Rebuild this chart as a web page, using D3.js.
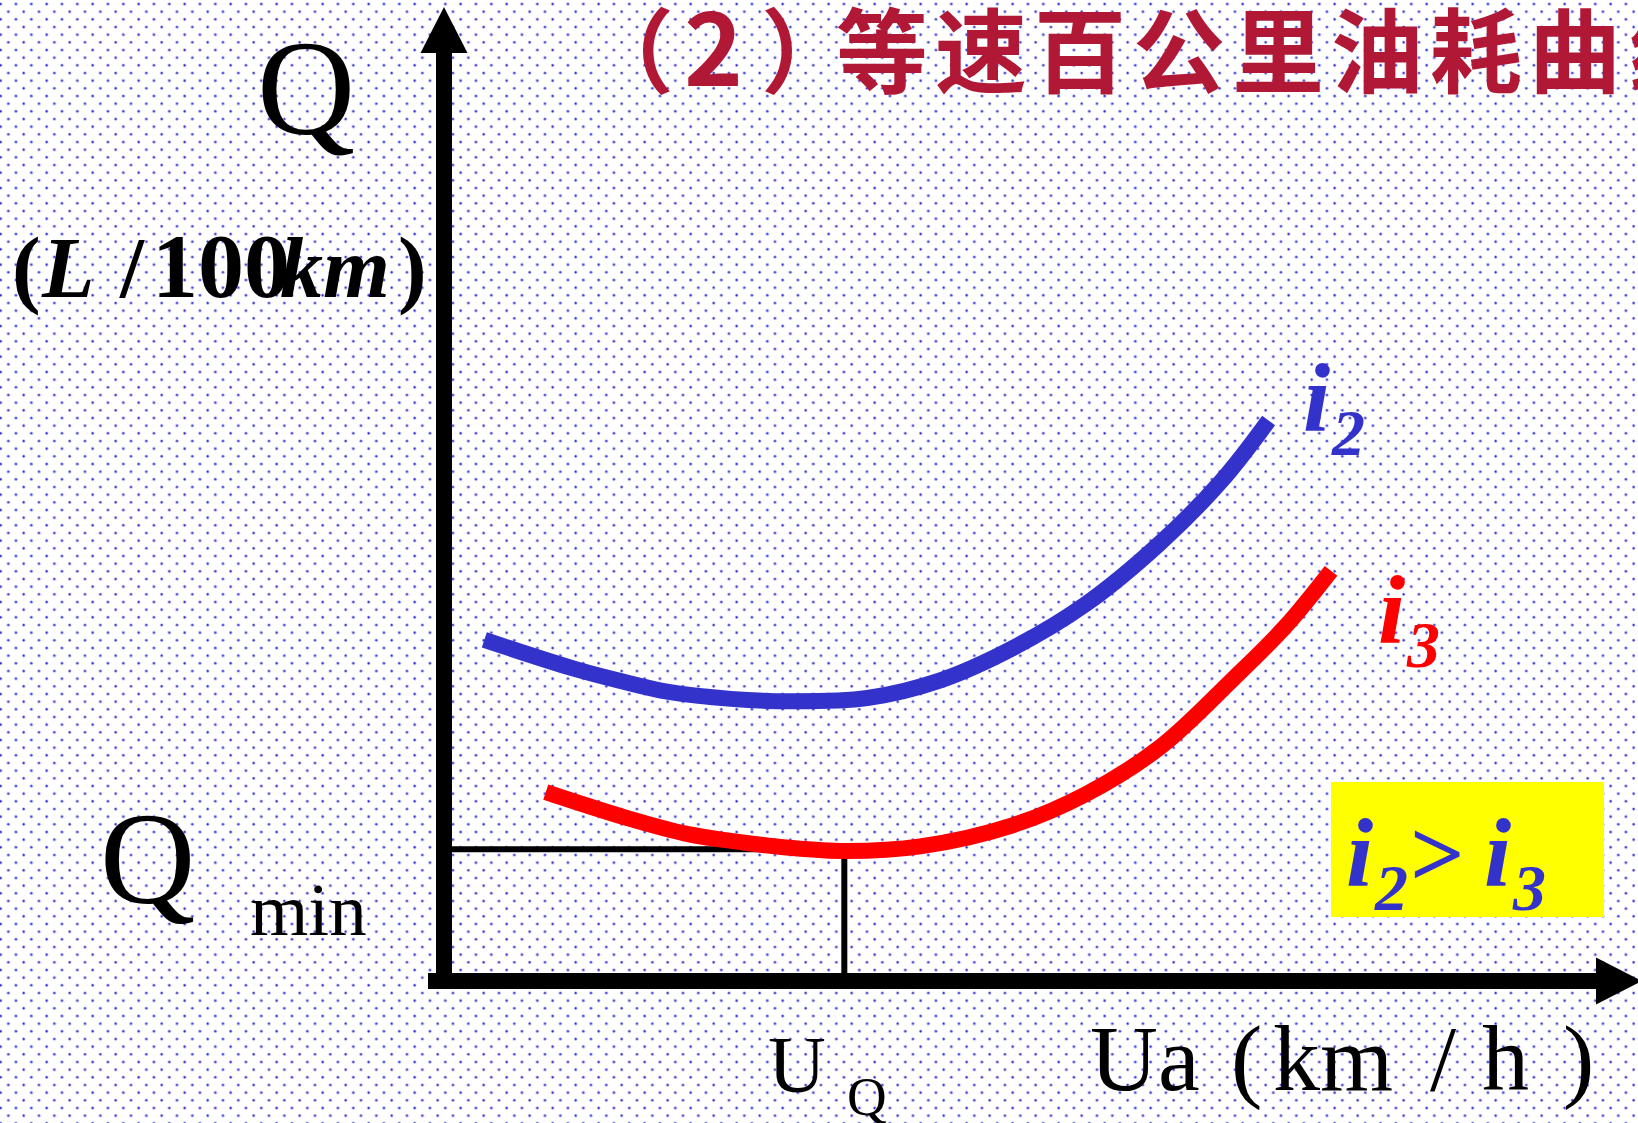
<!DOCTYPE html>
<html>
<head>
<meta charset="utf-8">
<script src="https://cdn.jsdelivr.net/npm/d3@7"></script>
<style>
  html, body { margin: 0; padding: 0; background: #ffffff; }
  svg { display: block; }
</style>
</head>
<body>
<script>
// Constant-speed fuel consumption per 100 km for two gear ratios (schematic).
const speedI2 = [4.2, 13.7, 18.3, 23.4, 29.9, 36.0, 44.1, 51.7, 59.3, 66.9, 74.6, 81.0, 85.9];
const fuelI2  = [7.35, 6.72, 6.47, 6.23, 6.08, 6.03, 6.10, 6.48, 7.18, 8.13, 9.44, 10.78, 12.08];
const speedI3 = [10.6, 19.1, 25.3, 29.9, 36.0, 41.9, 49.6, 59.3, 66.9, 74.6, 82.2, 87.6, 92.4];
const fuelI3  = [4.07, 3.51, 3.17, 3.02, 2.87, 2.80, 2.90, 3.36, 4.03, 5.04, 6.51, 7.63, 8.84];
const qMin = 2.84;   // minimum fuel consumption
const uQ = 41.7;     // speed at the minimum

const W = 1638, H = 1123;
const x = d3.scaleLinear([0, 120], [444, 1596]);
const y = d3.scaleLinear([0, 20], [981, 53]);

const svg = d3.select("body").append("svg")
  .attr("width", W).attr("height", H)
  .attr("viewBox", `0 0 ${W} ${H}`);

// dotted slide background
const defs = svg.append("defs");
const pat = defs.append("pattern")
  .attr("id", "dots").attr("patternUnits", "userSpaceOnUse")
  .attr("width", 15.333).attr("height", 15.333);
pat.append("rect").attr("width", 15.333).attr("height", 15.333).attr("fill", "#ffffff");
[[0.67, 4], [16, 4], [8.33, 11.67]].forEach(([cx, cy]) => {
  pat.append("circle").attr("cx", cx).attr("cy", cy).attr("r", 1.7).attr("fill", "#bcbcf0");
  pat.append("circle").attr("cx", cx).attr("cy", cy).attr("r", 1.05).attr("fill", "#2f2fcc");
});
svg.append("rect").attr("width", W).attr("height", H).attr("fill", "url(#dots)");

// title (runs past the right edge of the slide)
const title = svg.append("text")
  .attr("font-family", "'Noto Sans CJK SC', sans-serif")
  .attr("font-weight", 700).attr("font-size", 92)
  .attr("fill", "#b01836").attr("y", 86);
title.append("tspan").attr("x", 582).text("（");
title.append("tspan").attr("x", 684).attr("font-size", 100).text("2");
title.append("tspan").attr("x", 761).text("）");
title.append("tspan").attr("x", 836).attr("letter-spacing", 7).text("等速百公里油耗曲线");

// reference lines to the minimum point
svg.append("line")
  .attr("x1", x(0)).attr("x2", x(uQ))
  .attr("y1", y(qMin)).attr("y2", y(qMin))
  .attr("stroke", "#000").attr("stroke-width", 6);
svg.append("line")
  .attr("x1", x(uQ)).attr("x2", x(uQ))
  .attr("y1", y(qMin)).attr("y2", y(0))
  .attr("stroke", "#000").attr("stroke-width", 6);

// curves
const line = d3.line().x(d => x(d[0])).y(d => y(d[1])).curve(d3.curveCatmullRom);
svg.append("path")
  .attr("d", line(d3.zip(speedI2, fuelI2)))
  .attr("fill", "none").attr("stroke", "#3333cc")
  .attr("stroke-width", 16).attr("stroke-linecap", "butt");
svg.append("path")
  .attr("d", line(d3.zip(speedI3, fuelI3)))
  .attr("fill", "none").attr("stroke", "#ff0000")
  .attr("stroke-width", 16).attr("stroke-linecap", "butt");

// axes with arrowheads
const axW = 16, head = 46, headHalf = 23.5;
svg.append("rect")
  .attr("x", x(0) - axW / 2).attr("y", y(20))
  .attr("width", axW).attr("height", y(0) + axW / 2 - y(20))
  .attr("fill", "#000");
svg.append("path")
  .attr("d", `M${x(0)},${y(20) - head} L${x(0) + headHalf},${y(20)} L${x(0) - headHalf},${y(20)} Z`)
  .attr("fill", "#000");
svg.append("rect")
  .attr("x", x(0) - axW).attr("y", y(0) - axW / 2)
  .attr("width", x(120) - x(0) + axW).attr("height", axW)
  .attr("fill", "#000");
svg.append("path")
  .attr("d", `M${x(120) + head},${y(0)} L${x(120)},${y(0) - headHalf} L${x(120)},${y(0) + headHalf} Z`)
  .attr("fill", "#000");

// axis labels
const serif = "'Liberation Serif', 'Times New Roman', serif";
svg.append("text").attr("x", 257).attr("y", 134)
  .attr("font-family", serif).attr("font-size", 136).attr("fill", "#000").text("Q");

const unit = svg.append("text").attr("y", 297)
  .attr("font-family", serif).attr("font-size", 86).attr("font-weight", 700).attr("fill", "#000");
unit.append("tspan").attr("x", 12).text("(");
unit.append("tspan").attr("x", 42).attr("font-style", "italic").text("L");
unit.append("tspan").attr("x", 120).text("/");
unit.append("tspan").attr("x", 152).attr("font-size", 92).text("100");
unit.append("tspan").attr("x", 280).attr("font-style", "italic").text("km");
unit.append("tspan").attr("x", 398).text(")");

svg.append("text").attr("x", 100).attr("y", 903)
  .attr("font-family", serif).attr("font-size", 132).attr("fill", "#000").text("Q");
svg.append("text").attr("x", 250).attr("y", 935)
  .attr("font-family", serif).attr("font-size", 75).attr("fill", "#000").text("min");

svg.append("text").attr("x", 768).attr("y", 1092)
  .attr("font-family", serif).attr("font-size", 80).attr("fill", "#000").text("U");
svg.append("text").attr("x", 847).attr("y", 1115)
  .attr("font-family", serif).attr("font-size", 55).attr("fill", "#000").text("Q");

const ua = svg.append("text").attr("y", 1090)
  .attr("font-family", serif).attr("font-size", 94).attr("fill", "#000");
ua.append("tspan").attr("x", 1090).text("Ua");
ua.append("tspan").attr("x", 1231).text("(");
ua.append("tspan").attr("x", 1273).text("km");
ua.append("tspan").attr("x", 1430).text("/");
ua.append("tspan").attr("x", 1482).text("h");
ua.append("tspan").attr("x", 1563).text(")");

// curve labels
function gearLabel(xi, yi, sub, color) {
  const t = svg.append("text").attr("font-family", serif)
    .attr("font-weight", 700).attr("font-style", "italic").attr("fill", color);
  t.append("tspan").attr("x", xi).attr("y", yi).attr("font-size", 98).text("i");
  t.append("tspan").attr("x", xi + 29).attr("y", yi + 24).attr("font-size", 66).text(sub);
}
gearLabel(1303, 431, "2", "#3333cc");
gearLabel(1378, 643, "3", "#ff0000");

// comparison box
svg.append("rect").attr("x", 1331).attr("y", 782).attr("width", 273).attr("height", 135)
  .attr("fill", "#ffff00");
gearLabel(1346, 886, "2", "#3333cc");
svg.append("text").attr("x", 1410).attr("y", 886)
  .attr("font-family", serif).attr("font-weight", 700).attr("font-size", 96)
  .attr("fill", "#3333cc").text(">");
gearLabel(1484, 886, "3", "#3333cc");
</script>
</body>
</html>
